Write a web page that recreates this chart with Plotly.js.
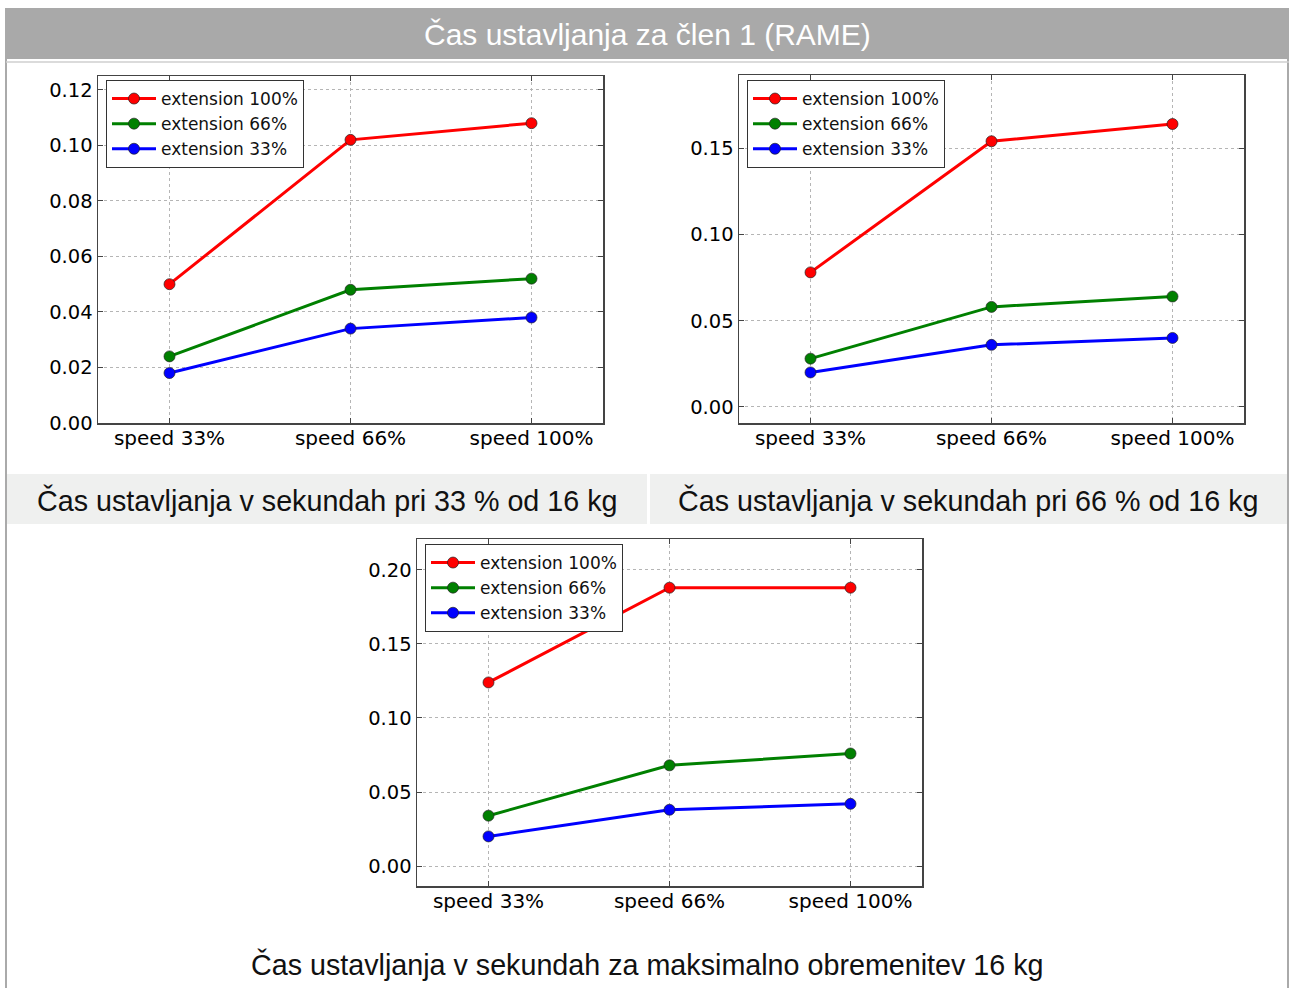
<!DOCTYPE html>
<html>
<head>
<meta charset="utf-8">
<script src="https://cdn.plot.ly/plotly-3.0.1.min.js"></script>
<style>
html,body{margin:0;padding:0;background:#fff;}
#chart{width:1290px;height:988px;}
</style>
</head>
<body>
<div id="chart"></div>
<script>
// ---- data ----
const categories = ["speed 33%", "speed 66%", "speed 100%"];
const seriesNames = ["extension 100%", "extension 66%", "extension 33%"];

// plot 1: 33 % of 16 kg
const p1_ext100 = [0.050, 0.102, 0.108];
const p1_ext66  = [0.024, 0.048, 0.052];
const p1_ext33  = [0.018, 0.034, 0.038];

// plot 2: 66 % of 16 kg
const p2_ext100 = [0.078, 0.154, 0.164];
const p2_ext66  = [0.028, 0.058, 0.064];
const p2_ext33  = [0.020, 0.036, 0.040];

// plot 3: max load 16 kg
const p3_ext100 = [0.124, 0.188, 0.188];
const p3_ext66  = [0.034, 0.068, 0.076];
const p3_ext33  = [0.020, 0.038, 0.042];

const yTicks1 = [0, 0.02, 0.04, 0.06, 0.08, 0.10, 0.12];
const yTicks2 = [0, 0.05, 0.10, 0.15];
const yTicks3 = [0, 0.05, 0.10, 0.15, 0.20];

const mainTitle = "Čas ustavljanja za člen 1 (RAME)";
const captions = [
  "Čas ustavljanja v sekundah pri 33 % od 16 kg",
  "Čas ustavljanja v sekundah pri 66 % od 16 kg",
  "Čas ustavljanja v sekundah za maksimalno obremenitev 16 kg"
];

// ---- styling ----
const colors = ["#ff0000", "#008000", "#0000ff"];
const W = 1290, H = 988;
const px = v => v / W;
const py = v => 1 - v / H;

const xIdx = categories.map((_, i) => i);

function mkTraces(sets, ax, legendId) {
  return sets.map((vals, k) => ({
    type: "scatter",
    mode: "lines+markers",
    x: xIdx,
    y: vals,
    name: seriesNames[k],
    xaxis: ax.x,
    yaxis: ax.y,
    legend: legendId,
    line: { color: colors[k], width: 3 },
    marker: { color: colors[k], size: 11, line: { color: "#222", width: 0.7 } },
    hoverinfo: "y"
  }));
}

const traces = []
  .concat(mkTraces([p1_ext100, p1_ext66, p1_ext33], { x: "x", y: "y" }, "legend"))
  .concat(mkTraces([p2_ext100, p2_ext66, p2_ext33], { x: "x2", y: "y2" }, "legend2"))
  .concat(mkTraces([p3_ext100, p3_ext66, p3_ext33], { x: "x3", y: "y3" }, "legend3"));

const tickFont = { family: "DejaVu Sans", size: 20, color: "#000" };

function xAxis(d0, d1, anchor) {
  return {
    domain: [d0, d1], anchor: anchor,
    range: [-0.395, 2.395],
    tickmode: "array", tickvals: xIdx, ticktext: categories,
    showline: true, mirror: "ticks", linecolor: "#444", linewidth: 1.5,
    ticks: "inside", ticklen: 5, tickcolor: "#444",
    showgrid: true, gridcolor: "#b5b5b5", griddash: "dot", gridwidth: 1,
    zeroline: false, tickfont: tickFont, fixedrange: true,
    ticklabelstandoff: -4
  };
}
function yAxis(d0, d1, anchor, range, ticks) {
  return {
    domain: [d0, d1], anchor: anchor,
    range: range,
    tickmode: "array", tickvals: ticks, ticktext: ticks.map(t => t.toFixed(2)),
    showline: true, mirror: "ticks", linecolor: "#444", linewidth: 1.5,
    ticks: "inside", ticklen: 5, tickcolor: "#444",
    showgrid: true, gridcolor: "#b5b5b5", griddash: "dot", gridwidth: 1,
    zeroline: false, tickfont: { family: "DejaVu Sans", size: 19.5, color: "#000" }, fixedrange: true
  };
}

function legendAt(xp, yp) {
  return {
    x: px(xp), y: py(yp), xanchor: "left", yanchor: "top",
    bgcolor: "#fff", bordercolor: "#333", borderwidth: 1,
    font: { family: "DejaVu Sans", size: 17, color: "#111" },
    tracegroupgap: 0, itemwidth: 44
  };
}

const captionFont = { family: "Liberation Sans, Arial, sans-serif", size: 28.7, color: "#111" };

const layout = {
  width: W, height: H,
  margin: { l: 0, r: 0, t: 0, b: 0 },
  paper_bgcolor: "#fff", plot_bgcolor: "#fff",
  showlegend: true,
  xaxis:  xAxis(px(98), px(603), "y"),
  yaxis:  yAxis(py(423), py(76), "x", [0, 0.125], yTicks1),
  xaxis2: xAxis(px(739), px(1244), "y2"),
  yaxis2: yAxis(py(423), py(75), "x2", [-0.0093, 0.1924], yTicks2),
  xaxis3: xAxis(px(417), px(922), "y3"),
  yaxis3: yAxis(py(886), py(539), "x3", [-0.0135, 0.2209], yTicks3),
  legend:  legendAt(106, 80),
  legend2: legendAt(747, 80),
  legend3: legendAt(425, 544),
  shapes: [
    // outer frame lines
    { type: "line", xref: "paper", yref: "paper", x0: px(6), x1: px(6), y0: 0, y1: py(8), line: { color: "#aaaaaa", width: 2 }, layer: "below" },
    { type: "line", xref: "paper", yref: "paper", x0: px(1288), x1: px(1288), y0: 0, y1: py(8), line: { color: "#aaaaaa", width: 2 }, layer: "below" },
    // title bar
    { type: "rect", xref: "paper", yref: "paper", x0: px(6), x1: px(1289), y0: py(59), y1: py(8), fillcolor: "#a9a9a9", line: { width: 0 }, layer: "below" },
    { type: "line", xref: "paper", yref: "paper", x0: px(6), x1: px(1289), y0: py(62), y1: py(62), line: { color: "#cfcfcf", width: 1.5 }, layer: "below" },
    // caption bars
    { type: "rect", xref: "paper", yref: "paper", x0: px(7), x1: px(647), y0: py(524), y1: py(474), fillcolor: "#eff0ef", line: { width: 0 }, layer: "below" },
    { type: "rect", xref: "paper", yref: "paper", x0: px(650), x1: px(1287), y0: py(524), y1: py(474), fillcolor: "#eff0ef", line: { width: 0 }, layer: "below" }
  ],
  annotations: [
    { text: mainTitle, xref: "paper", yref: "paper", x: px(647), y: py(35), xanchor: "center", yanchor: "middle", showarrow: false,
      font: { family: "Liberation Sans, Arial, sans-serif", size: 30, color: "#ffffff" } },
    { text: captions[0], xref: "paper", yref: "paper", x: px(327), y: py(500), xanchor: "center", yanchor: "middle", showarrow: false, font: captionFont },
    { text: captions[1], xref: "paper", yref: "paper", x: px(968), y: py(500), xanchor: "center", yanchor: "middle", showarrow: false, font: captionFont },
    { text: captions[2], xref: "paper", yref: "paper", x: px(647), y: py(964), xanchor: "center", yanchor: "middle", showarrow: false, font: captionFont }
  ]
};

Plotly.newPlot("chart", traces, layout, { staticPlot: true, displayModeBar: false });
</script>
</body>
</html>
